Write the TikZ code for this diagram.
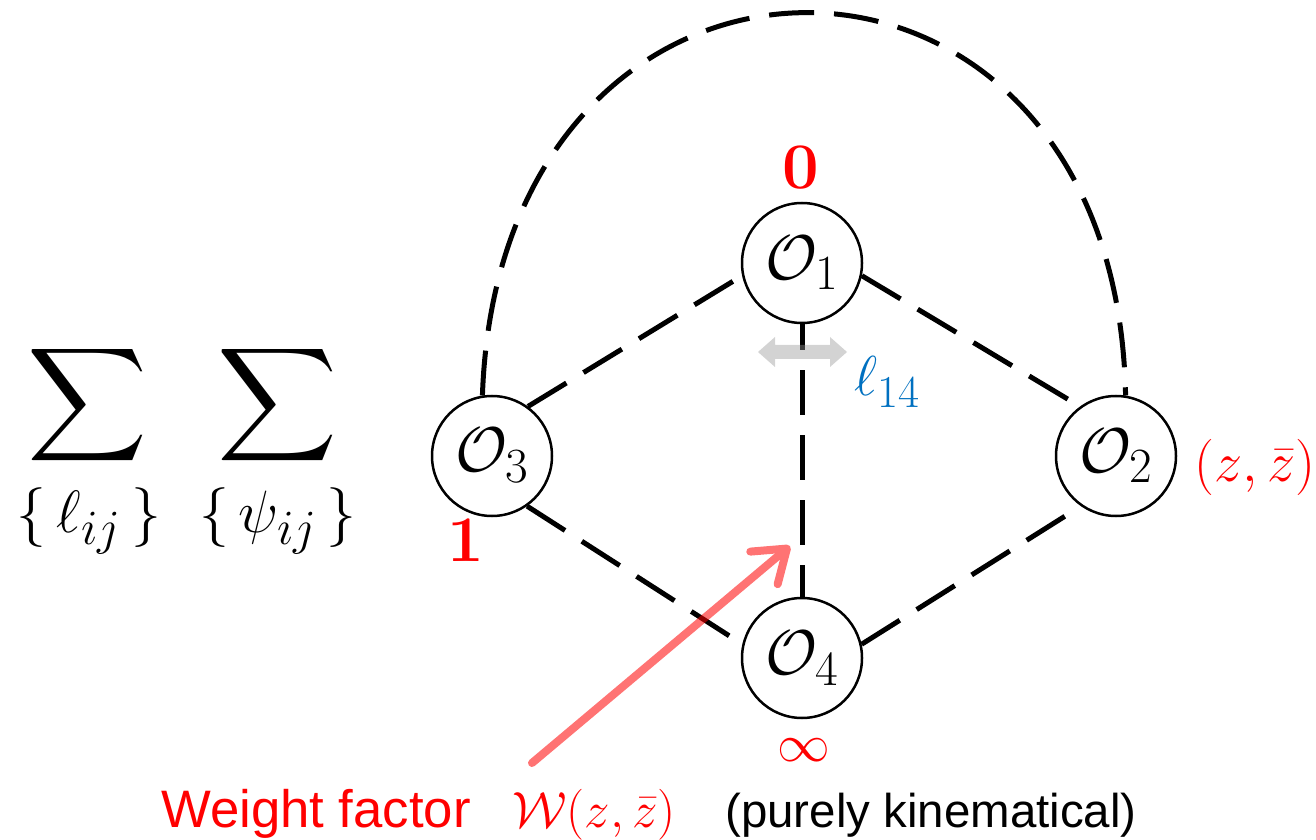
\documentclass[tikz,border=0pt]{standalone}
\usepackage{fix-cm}
\usepackage{fontspec}
\setsansfont{Liberation Sans}
\usepackage{graphicx}
\usetikzlibrary{arrows.meta}
\definecolor{kblue}{RGB}{0,112,192}
\definecolor{kgray}{RGB}{150,150,150}
\newcommand{\bigsub}[2]{\mbox{\fontsize{#1}{#1}\selectfont #2}}
\tikzset{
  op/.style={circle, draw, line width=0.05cm, minimum size=2.4cm, inner sep=0pt,
             font=\fontsize{36}{42}\selectfont},
  link/.style={line width=0.1cm, dash pattern=on 0.9cm off 0.4cm},
  redlab/.style={text=red, inner sep=0pt},
  biglab/.style={redlab, font=\fontsize{37}{44}\selectfont\bfseries},
  mathlab/.style={inner sep=0pt, font=\fontsize{32}{38}\selectfont},
  sublab/.style={inner sep=0pt, font=\fontsize{34}{40}\selectfont},
  sanslab/.style={inner sep=0pt, anchor=base, font=\sffamily},
  lenarrow/.style={fill=kgray, fill opacity=0.42},
  weightarrow/.style={draw=red, line width=0.16cm, line cap=round,
             -{Straight Barb[length=0.6cm, width=0.85cm, round]}},
}
\begin{document}
\begin{tikzpicture}[x=0.2mm,y=-0.2mm]
\useasboundingbox (0,0) rectangle (1316,840);

% sums
\node[inner sep=0pt] (S1) at (88,405) {\resizebox*{2.4cm}{2.54cm}{$\displaystyle\sum$}};
\node[inner sep=0pt] (S2) at (278,405) {\resizebox*{2.4cm}{2.54cm}{$\displaystyle\sum$}};
\node[sublab] (s1) at (89,521) {$\{\,\ell_{\bigsub{28}{$ij$}}\,\}$};
\node[sublab] (s2) at (278,521) {$\{\,\psi_{\bigsub{28}{$ij$}}\,\}$};

% operators
\node[op] (O1) at (802,263) {$\mathcal{O}_{\bigsub{28}{1}}$};
\node[op] (O2) at (1116,456) {$\mathcal{O}_{\bigsub{28}{2}}$};
\node[op] (O3) at (492,456) {$\mathcal{O}_{\bigsub{28}{3}}$};
\node[op] (O4) at (802,658) {$\mathcal{O}_{\bigsub{28}{4}}$};

% connectors
\draw[link] (O3.99) .. controls (500,-115) and (1116,-115) .. (O2.81);
\draw[link] (O3.54) -- (O1.192);
\draw[link] (O1.348) -- (O2.126);
\draw[link] (O3.-55) -- (O4.167);
\draw[link] (O4.13) -- (O2.235);
\draw[link, dash phase=0.38cm] (O1.south) -- (O4.north);

% length double arrow
\fill[lenarrow] (758,352) -- (775,337) -- (775,345) -- (830,345) -- (830,337)
  -- (847,352) -- (830,367) -- (830,359) -- (775,359) -- (775,367) -- cycle;
\node[mathlab, text=kblue] (l14) at (887,382) {$\ell_{\bigsub{26}{14}}$};

% position labels
\node[biglab] (p0) at (801,168) {0};
\node[biglab] (p1) at (466,540) {1};
\node[mathlab, text=red, font=\fontsize{30}{36}\selectfont] (pinf) at (804,750) {$\infty$};
\node[mathlab, text=red] (pz) at (1255,467) {$(z,\bar z)$};

% weight factor arrow
\coordinate (wtail) at (532,763);
\coordinate (wtip) at (790,546);
\begin{scope}[transparency group, opacity=0.55]
\draw[weightarrow] (wtail) -- (wtip);
\end{scope}

% bottom text
\node[sanslab, text=red, font=\sffamily\fontsize{30}{36}\selectfont] (wf) at (316,827) {Weight factor};
\node[inner sep=0pt, anchor=base, text=red, font=\fontsize{29}{35}\selectfont] (ww) at (594,827) {$\mathcal{W}(z,\bar z)$};
\node[sanslab, font=\sffamily\fontsize{27}{32}\selectfont] (pk) at (931,827) {(purely kinematical)};
\end{tikzpicture}
\end{document}
